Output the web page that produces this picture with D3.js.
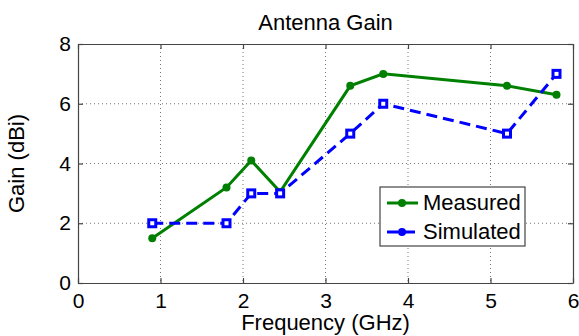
<!DOCTYPE html>
<html>
<head>
<meta charset="utf-8">
<script src="https://cdn.jsdelivr.net/npm/d3@7"></script>
<style>
  body { margin: 0; background: #fff; }
  svg text { font-family: "Liberation Sans", Arial, sans-serif; fill: #000; }
</style>
</head>
<body>
<div id="chartArea"></div>
<script>
// data
var freq = [0.9, 1.8, 2.1, 2.45, 3.3, 3.7, 5.2, 5.8];
var measured = [1.5, 3.2, 4.1, 3.05, 6.6, 7.0, 6.6, 6.3];
var simulated = [2, 2, 3, 3, 5, 6, 5, 7];
var xTicks = [0, 1, 2, 3, 4, 5, 6];
var yTicks = [0, 2, 4, 6, 8];
var seriesNames = ["Measured", "Simulated"];

var svg = d3.select("#chartArea").append("svg")
    .attr("width", 579).attr("height", 336);

var margin = {top: 44, right: 6, bottom: 53, left: 78},
    width = 579 - margin.left - margin.right,
    height = 336 - margin.top - margin.bottom;

var g = svg.append("g").attr("transform", "translate(" + margin.left + "," + margin.top + ")");

var x = d3.scaleLinear().domain([0, 6]).range([0, width]);
var y = d3.scaleLinear().domain([0, 8]).range([height, 0]);

// grid (dotted, inner ticks only)
g.append("g").selectAll("line").data(xTicks.slice(1, -1)).enter().append("line")
    .attr("x1", function(d) { return x(d); }).attr("x2", function(d) { return x(d); })
    .attr("y1", 0).attr("y2", height)
    .style("stroke", "#777").style("stroke-width", 1).style("stroke-dasharray", "1,3");
g.append("g").selectAll("line").data(yTicks.slice(1, -1)).enter().append("line")
    .attr("y1", function(d) { return y(d); }).attr("y2", function(d) { return y(d); })
    .attr("x1", 0).attr("x2", width)
    .style("stroke", "#777").style("stroke-width", 1).style("stroke-dasharray", "1,3");

// axes, ticks pointing inward
g.append("g").attr("transform", "translate(0," + height + ")")
    .call(d3.axisBottom(x).tickValues(xTicks).tickFormat(d3.format("d"))
        .tickSizeInner(-5).tickSizeOuter(0).tickPadding(10));
g.append("g")
    .call(d3.axisLeft(y).tickValues(yTicks).tickFormat(d3.format("d"))
        .tickSizeInner(-5).tickSizeOuter(0).tickPadding(7));
g.append("g").call(d3.axisTop(x).tickValues(xTicks).tickSizeInner(-5).tickSizeOuter(0).tickFormat(""));
g.append("g").attr("transform", "translate(" + width + ",0)")
    .call(d3.axisRight(y).tickValues(yTicks).tickSizeInner(-5).tickSizeOuter(0).tickFormat(""));
g.selectAll(".domain, .tick line").style("stroke", "#444").style("stroke-width", 1.2);
g.selectAll(".tick text").style("font-size", "21px");

// lines
var lineM = d3.line().x(function(d, i) { return x(freq[i]); }).y(function(d) { return y(d); });

g.append("path").datum(measured).attr("d", lineM)
    .style("fill", "none").style("stroke", "#008000").style("stroke-width", 3);
g.append("path").datum(simulated).attr("d", lineM)
    .style("fill", "none").style("stroke", "#0000ff").style("stroke-width", 3)
    .style("stroke-dasharray", "11,6");

g.selectAll(".mpt").data(measured).enter().append("circle")
    .attr("class", "mpt")
    .attr("cx", function(d, i) { return x(freq[i]); })
    .attr("cy", function(d) { return y(d); })
    .attr("r", 4).style("fill", "#008000");

g.selectAll(".spt").data(simulated).enter().append("rect")
    .attr("class", "spt")
    .attr("x", function(d, i) { return x(freq[i]) - 3.5; })
    .attr("y", function(d) { return y(d) - 3.5; })
    .attr("width", 7).attr("height", 7)
    .style("fill", "#fff").style("stroke", "#0000ff").style("stroke-width", 3);

// title and axis labels
svg.append("text").attr("x", margin.left + width / 2).attr("y", 30)
    .style("text-anchor", "middle").style("font-size", "22px").text("Antenna Gain");
svg.append("text").attr("x", margin.left + width / 2).attr("y", 330)
    .style("text-anchor", "middle").style("font-size", "22px").text("Frequency (GHz)");
svg.append("text").attr("transform", "translate(24," + (margin.top + height / 2) + ") rotate(-90)")
    .style("text-anchor", "middle").style("font-size", "22px").text("Gain (dBi)");

// legend
var legend = svg.append("g").attr("transform", "translate(380,187)");
legend.append("rect").attr("width", 145).attr("height", 59)
    .style("fill", "#fff").style("stroke", "#444").style("stroke-width", 1.2);
var colors = ["#008000", "#0000ff"];
var dashes = [null, "11,6"];
seriesNames.forEach(function(name, i) {
    var ly = 16 + i * 29;
    legend.append("line").attr("x1", 7).attr("x2", 38).attr("y1", ly).attr("y2", ly)
        .style("stroke", colors[i]).style("stroke-width", 3).style("stroke-dasharray", dashes[i]);
    legend.append("circle").attr("cx", 22).attr("cy", ly).attr("r", 4).style("fill", colors[i]);
    legend.append("text").attr("x", 43).attr("y", ly + 7).style("font-size", "22px").text(name);
});
</script>
</body>
</html>
